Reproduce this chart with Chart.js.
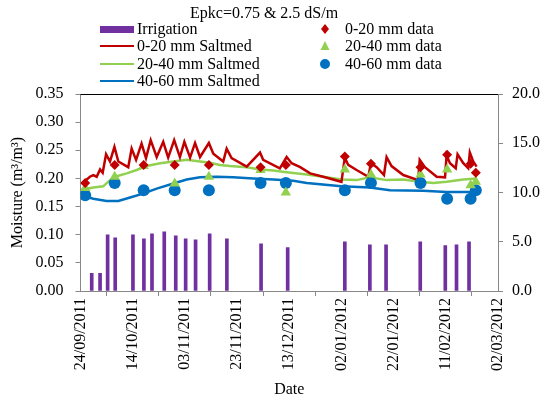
<!DOCTYPE html>
<html>
<head>
<meta charset="utf-8">
<script src="https://cdn.jsdelivr.net/npm/chart.js@4.4.1/dist/chart.umd.min.js"></script>
<style>
  body { margin: 0; background: #fff; }
  #wrap { position: relative; width: 546px; height: 403px; font-family: "Liberation Serif", "Times New Roman", serif; font-size: 16px; color: #000; }
  #myChart { position: absolute; left: 0; top: 0; }
  .t { position: absolute; white-space: nowrap; line-height: 16px; }
  .sw { position: absolute; }
</style>
</head>
<body>
<div id="wrap">
  <canvas id="myChart" width="546" height="403"></canvas>
  <div class="t" style="left:190px;top:5px;">Epkc=0.75 &amp; 2.5 dS/m</div>
  <div class="sw" style="left:100px;top:26px;width:34px;height:7px;background:#7030A0;"></div>
  <div class="t" style="left:137px;top:21px;">Irrigation</div>
  <div class="sw" style="left:100px;top:45px;width:34px;height:2px;background:#C00000;"></div>
  <div class="t" style="left:137px;top:38px;">0-20 mm Saltmed</div>
  <div class="sw" style="left:100px;top:63px;width:34px;height:2px;background:#92D050;"></div>
  <div class="t" style="left:137px;top:56px;">20-40 mm Saltmed</div>
  <div class="sw" style="left:100px;top:80px;width:34px;height:2px;background:#0070C0;"></div>
  <div class="t" style="left:137px;top:73px;">40-60 mm Saltmed</div>
  <canvas id="lg" width="30" height="70" style="position:absolute;left:310px;top:18px;"></canvas>
  <div class="t" style="left:345px;top:21px;">0-20 mm data</div>
  <div class="t" style="left:345px;top:38px;">20-40 mm data</div>
  <div class="t" style="left:345px;top:56px;">40-60 mm data</div>
</div>
<script>
  // x values are days after 24/09/2011
  const tickLabels = ['24/09/2011', '14/10/2011', '03/11/2011', '23/11/2011', '13/12/2011',
    '02/01/2012', '22/01/2012', '11/02/2012', '02/03/2012'];

  const irrDays = [4.3, 7.5, 10.4, 13.3, 20.1, 24.3, 27.4, 32.1, 36.5, 40.3, 44.1, 49.5, 56.1, 69.2, 79.4,
    101.3, 110.9, 117.1, 130.2, 139.8, 144.1, 148.9];
  const irrMm = [1.8, 1.8, 5.7, 5.4, 5.7, 5.3, 5.8, 6.0, 5.6, 5.3, 5.2, 5.8, 5.3, 4.8, 4.4,
    5.0, 4.7, 4.7, 5.0, 4.6, 4.7, 5.0];

  const sim1Days = [0.4, 3.6, 4.9, 6.2, 7.5, 8.5, 9.8, 11.3, 13, 14.5, 18.3, 19.6, 21.3, 23.4, 25.1, 26.9, 29.2,
    31.7, 33.6, 35.9, 38.1, 39.8, 42, 43.9, 45.8, 49.2, 50.9, 54.7, 56, 57.9, 63.7, 68.8, 70, 76.4, 79, 80.9,
    84.2, 88, 93, 100, 101.3, 102.6, 105.8, 110.3, 111.3, 113.5, 116.3, 117.3, 119.2, 123.7, 129.4, 130, 132,
    136.5, 139.7, 140.3, 141.6, 143.8, 144.5, 146.7, 148.6, 149.2, 150.5, 151.8];
  const sim1 = [0.19, 0.203, 0.206, 0.203, 0.216, 0.21, 0.243, 0.23, 0.256, 0.23, 0.22, 0.253, 0.233, 0.262, 0.236,
    0.268, 0.238, 0.265, 0.237, 0.268, 0.238, 0.265, 0.237, 0.263, 0.238, 0.263, 0.244, 0.23, 0.253, 0.236,
    0.221, 0.246, 0.233, 0.218, 0.238, 0.227, 0.22, 0.209, 0.203, 0.194, 0.237, 0.224, 0.215, 0.203, 0.227,
    0.22, 0.206, 0.238, 0.222, 0.206, 0.197, 0.233, 0.22, 0.203, 0.202, 0.241, 0.227, 0.218, 0.243, 0.227,
    0.218, 0.246, 0.23, 0.221];

  const sim2Days = [0.4, 4.9, 8.7, 11.3, 13.2, 17.7, 21.5, 25.4, 30.5, 35.6, 40.7, 45.8, 49.6, 53.4, 57.3, 63.7,
    68.8, 73.9, 79, 86.7, 93, 100, 105.8, 110.9, 117.3, 123.7, 130, 135.2, 140.3, 146.7, 151.8];
  const sim2 = [0.18, 0.184, 0.186, 0.197, 0.203, 0.209, 0.215, 0.222, 0.227, 0.23, 0.233, 0.23, 0.228, 0.224,
    0.222, 0.22, 0.216, 0.214, 0.211, 0.207, 0.203, 0.198, 0.197, 0.202, 0.197, 0.198, 0.194, 0.192, 0.194,
    0.198, 0.2];

  const sim3Days = [0.4, 4.9, 10, 14.5, 19, 24, 29.2, 35.6, 40.7, 45.8, 52.2, 58.5, 66.2, 73.9, 81.5, 86.7,
    100, 110.9, 118.6, 131.3, 140.3, 149.2, 151.8];
  const sim3 = [0.17, 0.164, 0.16, 0.16, 0.166, 0.173, 0.182, 0.191, 0.198, 0.202, 0.203, 0.202, 0.2, 0.198,
    0.196, 0.192, 0.186, 0.184, 0.179, 0.178, 0.176, 0.176, 0.176];

  const obsDays = [1.8, 13.1, 24.2, 36.1, 49.2, 69, 78.7, 101.3, 111.3, 130.3, 140.5, 149.5, 151.5];
  const obs1 = [0.192, 0.224, 0.224, 0.224, 0.224, 0.22, 0.224, 0.239, 0.226, 0.22, 0.242, 0.226, 0.21];
  const obs2 = [0.183, 0.203, 0.222, 0.191, 0.203, 0.215, 0.175, 0.216, 0.207, 0.207, 0.216, 0.188, 0.194];
  const obs3 = [0.17, 0.192, 0.179, 0.179, 0.179, 0.192, 0.192, 0.179, 0.192, 0.192, 0.164, 0.164, 0.179];

  const red = '#C00000', green = '#92D050', blue = '#0070C0', purple = '#7030A0';
  const pts = (xs, ys) => xs.map((x, i) => ({ x: x, y: ys[i] }));
  const font = { family: '"Liberation Serif", "Times New Roman", serif', size: 16 };

  const lineSet = (label, xs, ys, color) => ({
    type: 'line', label, data: pts(xs, ys), yAxisID: 'y', borderColor: color, backgroundColor: color,
    borderWidth: 2.5, pointRadius: 0, tension: 0, order: 5
  });
  const dotSet = (label, ys, color, style, r) => ({
    type: 'scatter', label, data: pts(obsDays, ys), yAxisID: 'y', borderColor: color, backgroundColor: color,
    pointStyle: style, pointRadius: r, pointHoverRadius: r, borderWidth: 0, order: 1
  });

  const topLine = {
    id: 'topLine',
    afterDraw(chart) {
      const a = chart.chartArea, c = chart.ctx;
      c.save();
      c.strokeStyle = '#000';
      c.lineWidth = 1;
      c.beginPath();
      c.moveTo(a.left, a.top + 0.5);
      c.lineTo(a.right, a.top + 0.5);
      c.stroke();
      c.restore();
    }
  };

  const config = {
    type: 'bar',
    data: {
      datasets: [
        { type: 'bar', label: 'Irrigation', data: pts(irrDays, irrMm), yAxisID: 'y2', backgroundColor: purple,
          barThickness: 3, order: 10 },
        lineSet('0-20 mm Saltmed', sim1Days, sim1, red),
        lineSet('20-40 mm Saltmed', sim2Days, sim2, green),
        lineSet('40-60 mm Saltmed', sim3Days, sim3, blue),
        dotSet('0-20 mm data', obs1, red, 'rectRot', 5),
        dotSet('20-40 mm data', obs2, green, 'triangle', 6),
        dotSet('40-60 mm data', obs3, blue, 'circle', 6)
      ]
    },
    options: {
      responsive: false,
      animation: false,
      layout: { padding: { top: 94, left: 0, right: 0, bottom: 0 } },
      plugins: { legend: { display: false }, tooltip: { enabled: false } },
      scales: {
        x: {
          type: 'linear', min: 0, max: 160, offset: false,
          afterFit(s) { s.height = 112; },
          ticks: { stepSize: 20, autoSkip: false, maxRotation: 90, minRotation: 90, color: '#000', font,
            padding: 2, callback: v => tickLabels[Math.round(v / 20)] },
          grid: { drawOnChartArea: false, color: '#888', tickLength: 5 },
          border: { color: '#888' },
          title: { display: true, text: 'Date', color: '#000', font, padding: { top: 0, bottom: 4 } }
        },
        y: {
          position: 'left', min: 0, max: 0.35,
          afterFit(s) { s.width = 80.5; },
          ticks: { stepSize: 0.05, color: '#000', font, padding: 12, callback: v => v.toFixed(2) },
          grid: { drawOnChartArea: false, color: '#888', tickLength: 5 },
          border: { color: '#888' },
          title: { display: true, text: 'Moisture (m³/m³)', color: '#000', font, padding: { top: 8, bottom: 0 } }
        },
        y2: {
          position: 'right', min: 0, max: 20,
          afterFit(s) { s.width = 48; },
          ticks: { stepSize: 5, color: '#000', font, padding: 9, callback: v => v.toFixed(1) },
          grid: { drawOnChartArea: false, color: '#888', tickLength: 5 },
          border: { color: '#888' }
        }
      }
    },
    plugins: [topLine]
  };

  const myChart = new Chart(document.getElementById('myChart'), config);

  // legend markers for the measured data
  const lg = document.getElementById('lg').getContext('2d');
  lg.fillStyle = red;
  lg.beginPath(); lg.moveTo(15, 6); lg.lineTo(19, 11); lg.lineTo(15, 16); lg.lineTo(11, 11); lg.closePath(); lg.fill();
  lg.fillStyle = green;
  lg.beginPath(); lg.moveTo(15, 23); lg.lineTo(19.5, 32); lg.lineTo(10.5, 32); lg.closePath(); lg.fill();
  lg.fillStyle = blue;
  lg.beginPath(); lg.arc(15, 46, 5, 0, Math.PI * 2); lg.fill();
</script>
</body>
</html>
